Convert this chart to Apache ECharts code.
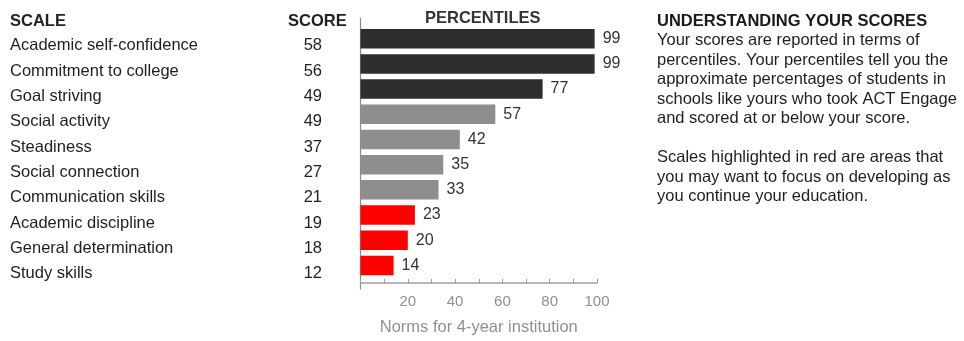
<!DOCTYPE html>
<html>
<head>
<meta charset="utf-8">
<script src="https://cdn.jsdelivr.net/npm/echarts@6/dist/echarts.min.js"></script>
<style>
  html, body { margin: 0; padding: 0; background: #fff; }
  #chart { width: 964px; height: 341px; }
</style>
</head>
<body>
<div id="chart"></div>
<script>
// Engage scale results
const scales = [
  'Academic self-confidence',
  'Commitment to college',
  'Goal striving',
  'Social activity',
  'Steadiness',
  'Social connection',
  'Communication skills',
  'Academic discipline',
  'General determination',
  'Study skills'
];
const scores = [58, 56, 49, 49, 37, 27, 21, 19, 18, 12];
const percentiles = [99, 99, 77, 57, 42, 35, 33, 23, 20, 14];
const levels = ['high', 'high', 'high', 'mid', 'mid', 'mid', 'mid', 'focus', 'focus', 'focus'];
const percentileTickLabels = [20, 40, 60, 80, 100];

const headerScale = 'SCALE';
const headerScore = 'SCORE';
const headerPercentiles = 'PERCENTILES';
const normsLabel = 'Norms for 4-year institution';
const infoTitle = 'UNDERSTANDING YOUR SCORES';
const infoLines = [
  'Your scores are reported in terms of',
  'percentiles. Your percentiles tell you the',
  'approximate percentages of students in',
  'schools like yours who took ACT Engage',
  'and scored at or below your score.',
  '',
  'Scales highlighted in red are areas that',
  'you may want to focus on developing as',
  'you continue your education.'
];

const FONT = '"Liberation Sans", Arial, Helvetica, sans-serif';
const levelColor = { high: '#2d2d2d', mid: '#8e8e8e', focus: '#ff0000' };

const chart = echarts.init(document.getElementById('chart'), null, { renderer: 'canvas' });

const option = {
  backgroundColor: '#ffffff',
  animation: false,
  textStyle: { fontFamily: FONT },
  grid: [
    // percentile bars
    { left: 360.5, width: 236.5, top: 26.1, height: 257.8 },
    // scale names and scores
    { left: 10, width: 312, top: 33, height: 253.3 },
    // vertical baseline of the bar panel
    { left: 360.5, width: 1, top: 18, height: 271 }
  ],
  xAxis: [
    {
      gridIndex: 0,
      type: 'value',
      min: 0,
      max: 100,
      interval: 10,
      offset: 5,
      axisLine: { show: true, lineStyle: { color: '#a0a0a0', width: 1.5 } },
      axisTick: { show: true, inside: true, length: 4, lineStyle: { color: '#a0a0a0' } },
      splitLine: { show: false },
      axisLabel: {
        margin: 11,
        fontSize: 15,
        color: '#8f8f8f',
        fontFamily: FONT,
        formatter: v => (percentileTickLabels.indexOf(v) >= 0 ? String(v) : '')
      },
      name: normsLabel,
      nameLocation: 'middle',
      nameGap: 36,
      nameTextStyle: { fontSize: 16.5, color: '#8f8f8f', fontFamily: FONT }
    },
    { gridIndex: 1, type: 'value', show: false },
    { gridIndex: 2, type: 'value', show: false }
  ],
  yAxis: [
    {
      gridIndex: 0,
      type: 'category',
      data: scales,
      inverse: true,
      axisLine: { show: false },
      axisTick: { show: false },
      axisLabel: { show: false }
    },
    {
      gridIndex: 1,
      type: 'category',
      data: scales,
      inverse: true,
      position: 'left',
      axisLine: { show: false },
      axisTick: { show: false },
      axisLabel: {
        align: 'left',
        margin: 0,
        fontSize: 16.5,
        color: '#1e1e1e',
        fontFamily: FONT
      }
    },
    {
      gridIndex: 1,
      type: 'category',
      data: scales,
      inverse: true,
      position: 'right',
      axisLine: { show: false },
      axisTick: { show: false },
      axisLabel: {
        align: 'right',
        margin: 0,
        fontSize: 16.5,
        color: '#1e1e1e',
        fontFamily: FONT,
        formatter: (value, index) => String(scores[index])
      }
    },
    {
      gridIndex: 2,
      type: 'value',
      axisLine: { show: true, lineStyle: { color: '#8a8a8a', width: 1.2 } },
      axisTick: { show: false },
      axisLabel: { show: false },
      splitLine: { show: false }
    }
  ],
  series: [
    {
      type: 'bar',
      xAxisIndex: 0,
      yAxisIndex: 0,
      barWidth: 19.5,
      data: percentiles.map((v, i) => ({
        value: v,
        itemStyle: { color: levelColor[levels[i]] }
      })),
      label: {
        show: true,
        position: 'right',
        distance: 8,
        fontSize: 16,
        color: '#333333',
        fontFamily: FONT
      }
    }
  ],
  graphic: [
    {
      type: 'text', left: 10, top: 13,
      style: { text: headerScale, font: 'bold 16.5px ' + FONT, fill: '#222222' }
    },
    {
      type: 'text', left: 288, top: 13,
      style: { text: headerScore, font: 'bold 16.5px ' + FONT, fill: '#222222' }
    },
    {
      type: 'text', left: 425, top: 10,
      style: { text: headerPercentiles, font: 'bold 16.5px ' + FONT, fill: '#333333' }
    },
    {
      type: 'text', left: 657, top: 13,
      style: { text: infoTitle, font: 'bold 16.5px ' + FONT, fill: '#1a1a1a' }
    },
    {
      type: 'text', left: 657, top: 31,
      style: {
        text: infoLines.join('\n'),
        font: '16.5px ' + FONT,
        lineHeight: 19.5,
        fill: '#1e1e1e'
      }
    }
  ]
};

chart.setOption(option);
</script>
</body>
</html>
